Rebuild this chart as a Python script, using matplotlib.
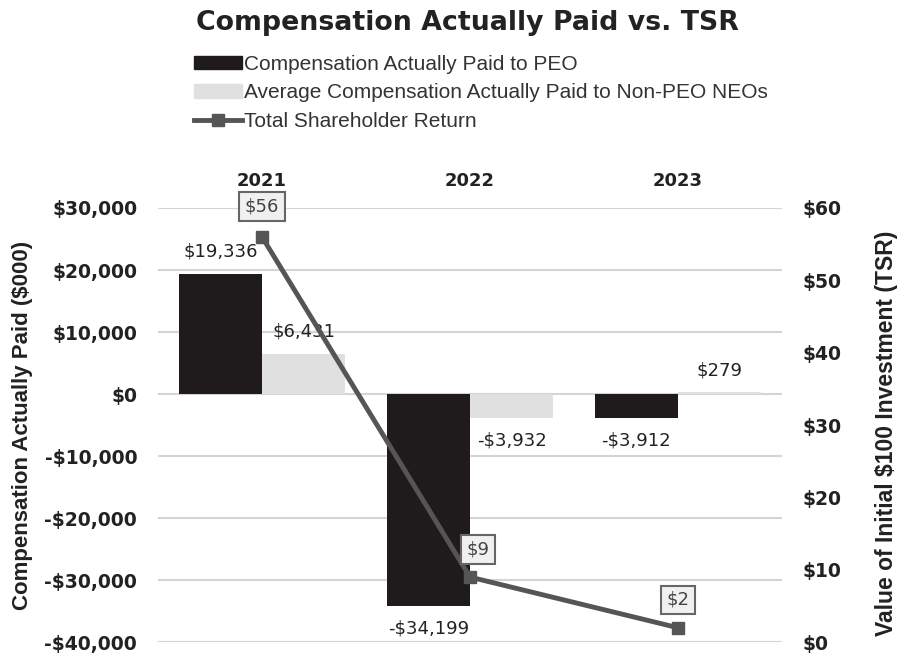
import matplotlib
matplotlib.use("Agg")
import matplotlib.pyplot as plt
from matplotlib.patches import Patch
from matplotlib.lines import Line2D
import numpy as np

years = ["2021", "2022", "2023"]
cap_peo = [19336, -34199, -3912]
cap_non_peo = [6431, -3932, 279]
tsr = [56, 9, 2]

peo_labels = ["$19,336", "-$34,199", "-$3,912"]
non_peo_labels = ["$6,431", "-$3,932", "$279"]
tsr_labels = ["$56", "$9", "$2"]

left_ticks = [30000, 20000, 10000, 0, -10000, -20000, -30000, -40000]
left_ticklabels = ["$30,000", "$20,000", "$10,000", "$0", "-$10,000",
                   "-$20,000", "-$30,000", "-$40,000"]
right_ticks = [0, 10, 20, 30, 40, 50, 60]
right_ticklabels = ["$0", "$10", "$20", "$30", "$40", "$50", "$60"]

plt.rcParams['font.family'] = ['DejaVu Sans']

fig = plt.figure(figsize=(9.03, 6.54), dpi=100)
ax = fig.add_axes([0.175, 0.018, 0.691, 0.664])

x = np.arange(len(years))
w = 0.4
dark = "#1f1b1c"
light = "#e0e0e0"
line_c = "#555555"
txt_c = "#222222"

ax.bar(x - w / 2, cap_peo, w, color=dark, zorder=2)
ax.bar(x + w / 2, cap_non_peo, w, color=light, zorder=2)

ax.set_xlim(-0.5, 2.5)
ax.set_ylim(-40000, 30000)
ax.set_yticks(left_ticks)
ax.set_yticklabels(left_ticklabels, fontsize=13.5, fontweight="bold", color=txt_c)
ax.grid(axis="y", color="#d4d4d4", lw=1.5, zorder=0)
ax.set_axisbelow(True)
ax.tick_params(axis="y", length=0, pad=15)
ax.xaxis.tick_top()
ax.set_xticks(x)
ax.set_xticklabels(years, fontsize=13, fontweight="bold", color=txt_c)
ax.tick_params(axis="x", length=0, pad=13)
for s in ax.spines.values():
    s.set_visible(False)
ax.set_ylabel("Compensation Actually Paid ($000)", fontsize=16,
              fontweight="bold", color=txt_c, family="Liberation Sans")
ax.yaxis.set_label_coords(-0.2, 0.5)

# bar value labels, centred on each bar, above positive / below negative
for i in range(len(years)):
    for xb, v, lab in [(x[i] - w / 2, cap_peo[i], peo_labels[i]),
                       (x[i] + w / 2, cap_non_peo[i], non_peo_labels[i])]:
        dy = 16 if v >= 0 else -16
        ax.annotate(lab, (xb, v), xytext=(0, dy), textcoords="offset points",
                    ha="center", va="center", fontsize=13, color=txt_c)

ax2 = ax.twinx()
ax2.set_ylim(0, 60)
ax2.set_yticks(right_ticks)
ax2.set_yticklabels(right_ticklabels, fontsize=13.5, fontweight="bold", color=txt_c)
ax2.tick_params(axis="y", length=0, pad=15)
for s in ax2.spines.values():
    s.set_visible(False)
ax2.set_ylabel("Value of Initial $100 Investment (TSR)", fontsize=16.5,
               fontweight="bold", color=txt_c, family="Liberation Sans")
ax2.yaxis.set_label_coords(1.149, 0.48)
ax2.plot(x, tsr, color=line_c, lw=3.5, marker="s", ms=9, zorder=3)

offs = [(0, 22), (6, 20), (0, 20)]
for i in range(len(years)):
    dx, dy = offs[i]
    ax2.annotate(tsr_labels[i], (x[i], tsr[i]), xytext=(dx, dy),
                 textcoords="offset points", ha="center", va="center",
                 fontsize=13, color="#444444",
                 bbox=dict(boxstyle="square,pad=0.3", fc="#f0f0f0", ec="#666666", lw=1.5))

fig.suptitle("Compensation Actually Paid vs. TSR", x=0.518, y=0.985,
             fontsize=19.3, fontweight="bold", color=txt_c)

handles = [Patch(color=dark), Patch(color=light),
           Line2D([0], [0], color=line_c, lw=3.5, marker="s", ms=9)]
labels = ["Compensation Actually Paid to PEO",
          "Average Compensation Actually Paid to Non-PEO NEOs",
          "Total Shareholder Return"]
fig.legend(handles, labels, loc="upper left", bbox_to_anchor=(0.203, 0.932),
           frameon=False, prop={"family": "Liberation Sans", "size": 15},
           handlelength=2.3, handleheight=0.6,
           labelspacing=0.45, handletextpad=0.1, borderpad=0, labelcolor="#333333")

fig.savefig("out.png", dpi=100)
